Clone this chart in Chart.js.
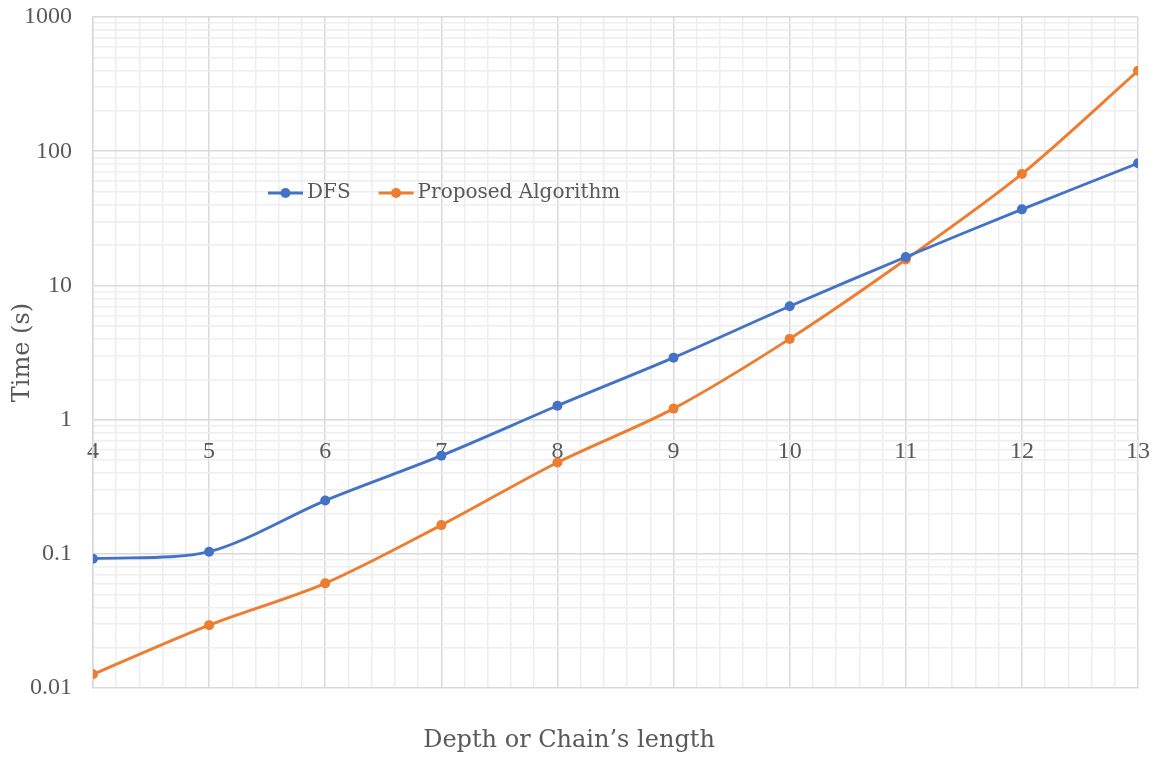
<!DOCTYPE html>
<html>
<head>
<meta charset="utf-8">
<title>Time vs depth</title>
<style>
  html, body { margin: 0; padding: 0; background: #ffffff; }
  canvas { display: block; }
</style>
<script src="https://cdn.jsdelivr.net/npm/chart.js@4.4.1/dist/chart.umd.min.js"></script>
</head>
<body>
<canvas id="chart" width="1156" height="759"></canvas>
<script>
// Search depth (chain length) and measured run times in seconds
const depths = [4, 5, 6, 7, 8, 9, 10, 11, 12, 13];
const dfsTimes = [0.092, 0.104, 0.25, 0.54, 1.27, 2.9, 7.0, 16.3, 36.9, 81.4];
const proposedTimes = [0.0127, 0.0295, 0.0604, 0.164, 0.48, 1.21, 4.0, 15.6, 67.7, 397];
const seriesNames = ['DFS', 'Proposed Algorithm'];
const yDecades = [0.01, 0.1, 1, 10, 100, 1000];
const xTitle = 'Depth or Chain’s length';
const yTitle = 'Time (s)';

const TEXT = '#595959';
const GRID_MAJOR = '#d9d9d9';
const GRID_MINOR = '#eeeeee';
const BLUE = '#4472c4';
const ORANGE = '#ed7d31';
const TITLE_FONT = "'DejaVu Serif', serif";
const TICK_FONT = "'Liberation Serif', serif";

// Grid positions: five divisions between depths, 1..9 within each decade
const xGrid = [];
for (let i = 0; i < depths.length - 1; i++) {
  for (let k = 0; k < 5; k++) xGrid.push(depths[i] + k * (depths[i + 1] - depths[i]) / 5);
}
xGrid.push(depths[depths.length - 1]);

const yGrid = [];
for (let i = 0; i < yDecades.length - 1; i++) {
  for (let k = 1; k <= 9; k++) yGrid.push(yDecades[i] * k);
}
yGrid.push(yDecades[yDecades.length - 1]);

const majorX = v => depths.find(d => Math.abs(d - v) < 1e-9);
const majorY = v => yDecades.find(d => Math.abs(d - v) / d < 1e-9);

const toPoints = values => depths.map((d, i) => ({ x: d, y: values[i] }));

// Legend drawn inside the plot area, left of centre
const insideLegend = {
  id: 'insideLegend',
  afterDatasetsDraw(chart, args, opts) {
    const { ctx, chartArea } = chart;
    let x = chartArea.left + opts.offsetX;
    const y = chartArea.top + opts.offsetY;
    ctx.save();
    ctx.font = opts.font;
    ctx.textBaseline = 'middle';
    ctx.textAlign = 'left';
    chart.data.datasets.forEach(ds => {
      ctx.strokeStyle = ds.borderColor;
      ctx.lineWidth = ds.borderWidth;
      ctx.beginPath();
      ctx.moveTo(x, y);
      ctx.lineTo(x + opts.lineLength, y);
      ctx.stroke();
      ctx.fillStyle = ds.backgroundColor;
      ctx.beginPath();
      ctx.arc(x + opts.lineLength / 2, y, ds.pointRadius, 0, Math.PI * 2);
      ctx.fill();
      x += opts.lineLength + opts.textGap;
      ctx.fillStyle = opts.color;
      ctx.fillText(ds.label, x, y);
      x += ctx.measureText(ds.label).width + opts.itemGap;
    });
    ctx.restore();
  }
};

Chart.defaults.font.family = TITLE_FONT;
Chart.defaults.color = TEXT;

const lineStyle = color => ({
  borderColor: color,
  backgroundColor: color,
  borderWidth: 2.9,
  pointRadius: 5,
  pointHoverRadius: 5,
  pointBorderWidth: 0,
  pointBackgroundColor: color,
  tension: 0.3,
  fill: false
});

new Chart(document.getElementById('chart'), {
  type: 'line',
  data: {
    datasets: [
      { label: seriesNames[0], data: toPoints(dfsTimes), ...lineStyle(BLUE) },
      { label: seriesNames[1], data: toPoints(proposedTimes), ...lineStyle(ORANGE) }
    ]
  },
  options: {
    responsive: false,
    animation: false,
    events: [],
    layout: { padding: { left: 0, right: 18, top: 17, bottom: 4 } },
    scales: {
      x: {
        type: 'linear',
        position: { y: 1 },
        min: depths[0],
        max: depths[depths.length - 1],
        afterBuildTicks: axis => { axis.ticks = xGrid.map(v => ({ value: v })); },
        // end labels may overhang the plot edges
        afterFit: axis => { axis.paddingLeft = 0; axis.paddingRight = 0; },
        ticks: {
          autoSkip: false,
          maxRotation: 0,
          padding: 18,
          color: TEXT,
          font: { family: TICK_FONT, size: 24 },
          callback: v => { const d = majorX(v); return d === undefined ? '' : String(d); }
        },
        grid: {
          drawTicks: false,
          lineWidth: 1.5,
          color: c => (c.tick && majorX(c.tick.value) !== undefined) ? GRID_MAJOR : GRID_MINOR
        },
        border: { display: false }
      },
      y: {
        type: 'logarithmic',
        position: 'left',
        min: yDecades[0],
        max: yDecades[yDecades.length - 1],
        afterBuildTicks: axis => { axis.ticks = yGrid.map(v => ({ value: v })); },
        afterFit: axis => { axis.width = 93; axis.paddingTop = 0; axis.paddingBottom = 0; },
        ticks: {
          autoSkip: false,
          padding: 21,
          color: TEXT,
          font: { family: TICK_FONT, size: 24 },
          callback: v => { const d = majorY(v); return d === undefined ? '' : String(d); }
        },
        grid: {
          drawTicks: false,
          lineWidth: 1.5,
          color: c => (c.tick && majorY(c.tick.value) !== undefined) ? GRID_MAJOR : GRID_MINOR
        },
        border: { display: true, color: GRID_MAJOR, width: 1.5 },
        title: {
          display: true,
          text: yTitle,
          color: TEXT,
          font: { size: 24 },
          padding: { top: 8, bottom: 0 }
        }
      }
    },
    plugins: {
      legend: { display: false },
      tooltip: { enabled: false },
      title: {
        display: true,
        position: 'bottom',
        text: xTitle,
        color: TEXT,
        font: { size: 24, weight: 'normal' },
        padding: { top: 38, bottom: 0 }
      },
      insideLegend: {
        offsetX: 175,
        offsetY: 176,
        lineLength: 35,
        textGap: 4,
        itemGap: 28,
        color: TEXT,
        font: "20px 'DejaVu Serif', serif"
      }
    }
  },
  plugins: [insideLegend]
});
</script>
</body>
</html>
